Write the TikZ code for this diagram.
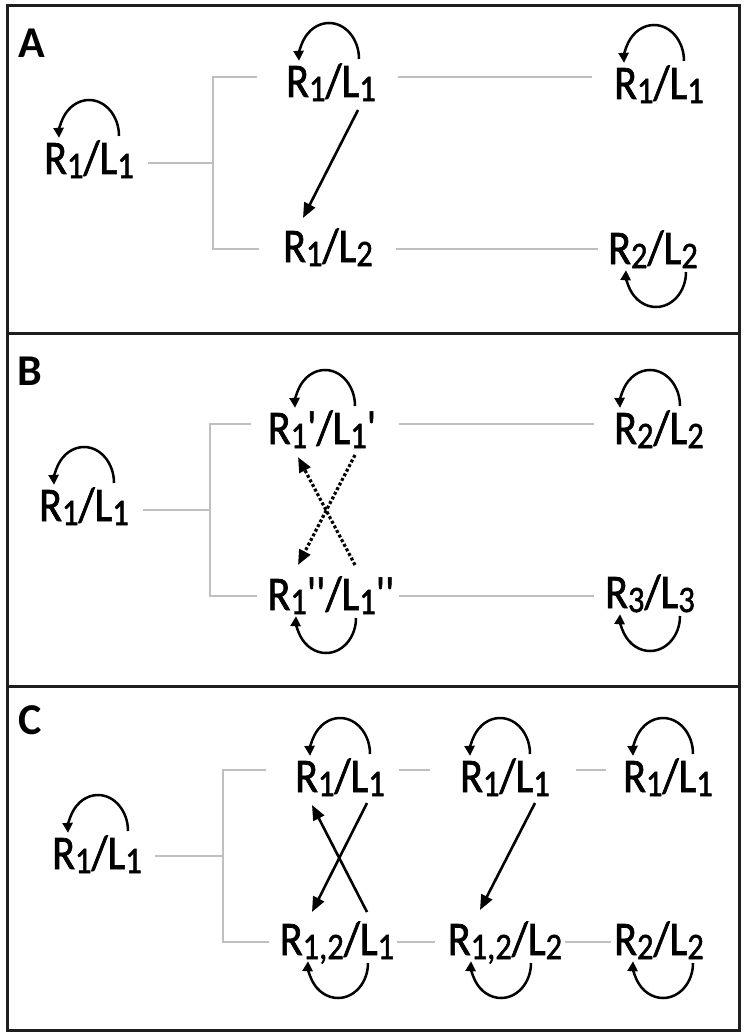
\documentclass[tikz,border=0pt]{standalone}
\usepackage{graphicx}
\usepackage{fontspec}
\setmainfont{Carlito}
\newfontfamily\statefont{Carlito}[FakeBold=1.5]
\usetikzlibrary{arrows.meta,positioning}

\definecolor{branchgray}{RGB}{191,191,191}
\definecolor{framegray}{RGB}{30,30,30}
\newcommand{\dn}[1]{\raisebox{-3.5pt}{\fontsize{32.5}{32.5}\selectfont #1}}
\newcommand{\tall}[1]{\scalebox{1}[1.15]{#1}}
\newcommand{\tick}{\textquotesingle}
\newcommand{\loopup}[2]{\draw[self] ([xshift={(#2+30)*1pt},yshift=38pt]#1.base) arc[start angle=0,end angle=183,x radius=30pt,y radius=36pt];}
\newcommand{\loopdown}[2]{\draw[self] ([xshift={(#2+30)*1pt},yshift=-8pt]#1.base) arc[start angle=0,end angle=-183,x radius=30pt,y radius=35pt];}

\tikzset{
  state/.style={inner sep=0pt, anchor=base, font=\statefont\fontsize{42}{42}\selectfont},
  panel/.style={inner sep=0pt, anchor=base west, font=\fontsize{44}{44}\selectfont\bfseries},
  branch/.style={draw=branchgray, line width=2.8pt},
  switch/.style={-{Triangle[length=15pt,width=12pt]}, line width=2.6pt},
  weak/.style={-{Triangle[length=15pt,width=12pt]}, line width=3.2pt, dash pattern=on 3pt off 2.2pt},
  self/.style={-{Triangle[length=10pt,width=10pt]}, line width=2.5pt},
}

\begin{document}
\begin{tikzpicture}[x=1pt,y=-1pt]
        \useasboundingbox (0,0) rectangle (746,1035);
        \draw[framegray,line width=3pt] (7,6) rectangle (739,1030);
        \draw[framegray,line width=3pt] (7,333) -- (739,333);
        \draw[framegray,line width=3pt] (7,686) -- (739,686);

        \node[panel] (pa) at (18,58) {A};
        \node[panel] (pb) at (17,385) {B};
        \node[panel] (pc) at (18,734) {C};

        \node[state] (aL) at (89,174) {\tall{R\dn{1}/L\dn{1}}};
        \node[state] (aT) at (331,97) {\tall{R\dn{1}/L\dn{1}}};
        \node[state] (aB) at (328,262) {\tall{R\dn{1}/L\dn{2}}};
        \node[state] (aTR) at (659,99) {\tall{R\dn{1}/L\dn{1}}};
        \node[state] (aBR) at (653,264) {\tall{R\dn{2}/L\dn{2}}};
        \coordinate (ja) at (213,163);
        \coordinate (jat) at (213,77);
        \coordinate (jab) at (213,249);
        \draw[branch, shorten <=14pt] (aL.east |- ja) -- (ja);
        \draw[branch, shorten <=29pt, shorten >=24pt] (aT.west |- jat) -- (jat) -- (jab) -- (aB.west |- jab);
        \draw[branch, shorten <=22pt, shorten >=22pt] (aT.east |- jat) -- (aTR.west |- jat);
        \draw[branch, shorten <=23pt, shorten >=10pt] (aB.east |- jab) -- (aBR.west |- jab);
        \loopup{aL}{0}
        \loopup{aT}{-2}
        \loopup{aTR}{-5}
        \loopdown{aBR}{3}
        \draw[switch] ([xshift=27pt,yshift=-13pt]aT.base) -- ([xshift=-25pt,yshift=44pt]aB.base);

        \node[state] (bL) at (84,521) {\tall{R\dn{1}/L\dn{1}}};
        \node[state] (bT) at (322,444) {\tall{R\dn{1}\tick/L\dn{1}\tick}};
        \node[state] (bB) at (331,610) {\tall{R\dn{1}\tick\tick/L\dn{1}\tick\tick}};
        \node[state] (bTR) at (659,444) {\tall{R\dn{2}/L\dn{2}}};
        \node[state] (bBR) at (650,608) {\tall{R\dn{3}/L\dn{3}}};
        \coordinate (jb) at (210,510);
        \coordinate (jbt) at (210,424);
        \coordinate (jbb) at (210,596);
        \draw[branch, shorten <=14pt] (bL.east |- jb) -- (jb);
        \draw[branch, shorten <=17pt, shorten >=10pt] (bT.west |- jbt) -- (jbt) -- (jbb) -- (bB.west |- jbb);
        \draw[branch, shorten <=23pt, shorten >=20pt] (bT.east |- jbt) -- (bTR.west |- jbt);
        \draw[branch, shorten <=4pt, shorten >=11pt] (bB.east |- jbb) -- (bBR.west |- jbb);
        \loopup{bL}{0}
        \loopup{bT}{3}
        \loopdown{bB}{-5}
        \loopup{bTR}{-9}
        \loopdown{bBR}{0}
        \draw[weak] ([xshift=33pt,yshift=-11pt]bT.base) -- ([xshift=-33pt,yshift=45pt]bB.base);
        \draw[weak] ([xshift=24pt,yshift=45pt]bB.base) -- ([xshift=-24pt,yshift=-13pt]bT.base);

        \node[state] (cL) at (97,869) {\tall{R\dn{1}/L\dn{1}}};
        \node[state] (cT1) at (340,792) {\tall{R\dn{1}/L\dn{1}}};
        \node[state] (cB1) at (337,955) {\tall{R\dn{1,2}/L\dn{1}}};
        \node[state] (cT2) at (505,792) {\tall{R\dn{1}/L\dn{1}}};
        \node[state] (cB2) at (505,955) {\tall{R\dn{1,2}/L\dn{2}}};
        \node[state] (cT3) at (668,792) {\tall{R\dn{1}/L\dn{1}}};
        \node[state] (cB3) at (659,955) {\tall{R\dn{2}/L\dn{2}}};
        \coordinate (jc) at (223,856);
        \coordinate (jct) at (223,770);
        \coordinate (jcb) at (223,942);
        \draw[branch, shorten <=13pt] (cL.east |- jc) -- (jc);
        \draw[branch, shorten <=29pt, shorten >=11pt] (cT1.west |- jct) -- (jct) -- (jcb) -- (cB1.west |- jcb);
        \draw[branch, shorten <=14pt, shorten >=30pt] (cT1.east |- jct) -- (cT2.west |- jct);
        \draw[branch, shorten <=26pt, shorten >=17pt] (cT2.east |- jct) -- (cT3.west |- jct);
        \draw[branch, shorten <=3pt, shorten >=13pt] (cB1.east |- jcb) -- (cB2.west |- jcb);
        \draw[branch, shorten <=3pt, shorten >=3pt] (cB2.east |- jcb) -- (cB3.west |- jcb);
        \loopup{cL}{1}
        \loopup{cT1}{0}
        \loopdown{cB1}{1}
        \loopup{cT2}{-5}
        \loopdown{cB2}{-4}
        \loopup{cT3}{-5}
        \loopdown{cB3}{4}
        \draw[switch] ([xshift=27pt,yshift=-11pt]cT1.base) -- ([xshift=-25pt,yshift=43pt]cB1.base);
        \draw[switch] ([xshift=30pt,yshift=43pt]cB1.base) -- ([xshift=-28pt,yshift=-13pt]cT1.base);
        \draw[switch] ([xshift=30pt,yshift=-11pt]cT2.base) -- ([xshift=-25pt,yshift=45pt]cB2.base);
\end{tikzpicture}
\end{document}
